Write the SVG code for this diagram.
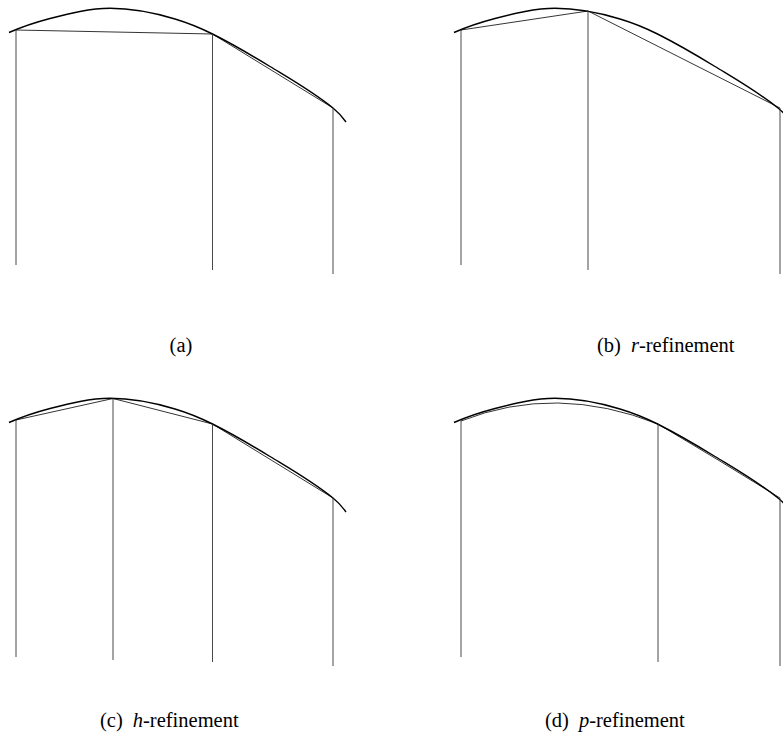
<svg xmlns="http://www.w3.org/2000/svg" xmlns:xlink="http://www.w3.org/1999/xlink" width="783" height="742" viewBox="0 0 783 742">
<style>
.curve{fill:none;stroke:#000;stroke-width:1.4}
.chord{fill:none;stroke:#000;stroke-width:0.8}
.vert{fill:none;stroke:#333;stroke-width:0.9}
.lbl{font-family:"Liberation Serif","Times New Roman",serif;font-size:20.5px;fill:#000}
.it{font-style:italic}
</style>
<defs>
<path id="exact" class="curve" d="M9,32.5 C22.7,26.5 36.3,22.1 50,18.5 C70,13.3 90,8.3 110,8.3 C131.7,8.3 153.3,12.5 175,19 C187.5,22.75 200,27.75 212.5,34 C231.7,43.6 250.8,54.8 270,66.5 C291,79.3 312,91.2 333,108 C337.3,111.5 341.7,115.9 346,122"/>
</defs>
<rect width="783" height="742" fill="#fff"/>

<g id="panel-a">
<use xlink:href="#exact" href="#exact"/>
<polyline class="chord" points="16,30 212.5,34 333,108"/>
<line class="vert" x1="16" y1="30" x2="16" y2="265"/>
<line class="vert" x1="212.5" y1="34" x2="212.5" y2="270"/>
<line class="vert" x1="333" y1="108" x2="333" y2="274"/>
<text class="lbl" x="181" y="352" text-anchor="middle">(a)</text>
</g>

<g id="panel-b">
<use xlink:href="#exact" href="#exact" transform="translate(445,0)"/>
<polyline class="chord" points="461,30 588,11 780,108"/>
<line class="vert" x1="461" y1="30" x2="461" y2="265"/>
<line class="vert" x1="588" y1="11" x2="588" y2="270"/>
<line class="vert" x1="780" y1="108" x2="780" y2="274"/>
<text class="lbl" x="597" y="352">(b)<tspan class="it" dx="10">r</tspan>-refinement</text>
</g>

<g id="panel-c">
<use xlink:href="#exact" href="#exact" transform="translate(0,390)"/>
<polyline class="chord" points="16,420 113,398.5 212.5,424 333,498"/>
<line class="vert" x1="16" y1="420" x2="16" y2="657"/>
<line class="vert" x1="113" y1="398.5" x2="113" y2="660"/>
<line class="vert" x1="212.5" y1="424" x2="212.5" y2="662"/>
<line class="vert" x1="333" y1="498" x2="333" y2="666"/>
<text class="lbl" x="100" y="727">(c)<tspan class="it" dx="10">h</tspan>-refinement</text>
</g>

<g id="panel-d">
<use xlink:href="#exact" href="#exact" transform="translate(445,390)"/>
<path class="chord" d="M461,421 Q556,383.5 658,424 Q719,460 780,498"/>
<line class="vert" x1="461" y1="421" x2="461" y2="657"/>
<line class="vert" x1="658" y1="424" x2="658" y2="662"/>
<line class="vert" x1="780" y1="498" x2="780" y2="666"/>
<text class="lbl" x="545" y="727">(d)<tspan class="it" dx="10">p</tspan>-refinement</text>
</g>
</svg>
